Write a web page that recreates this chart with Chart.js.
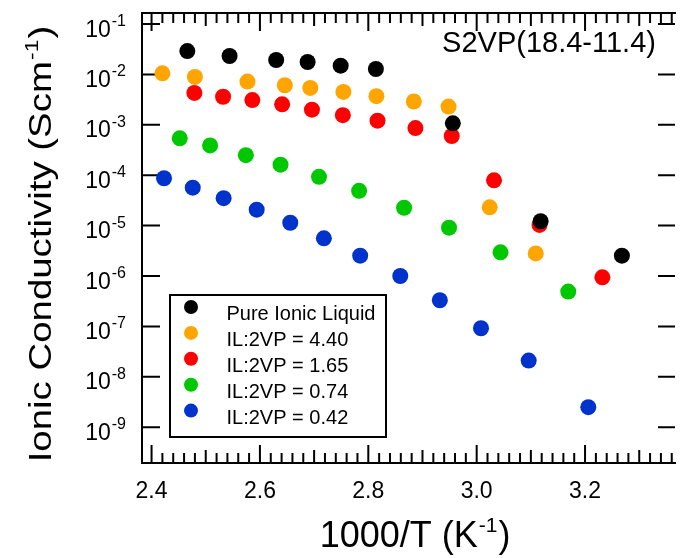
<!DOCTYPE html>
<html>
<head>
<meta charset="utf-8">
<script src="https://cdn.jsdelivr.net/npm/chart.js@4"></script>
<style>
  html, body { margin: 0; padding: 0; background: #fff; overflow: hidden; }
  canvas { display: block; }
</style>
</head>
<body>
<canvas id="c" width="683" height="558"></canvas>
<script>
// Ionic conductivity vs. inverse temperature for S2VP(18.4-11.4) with varying IL:2VP ratio

const seriesNames = ['Pure Ionic Liquid', 'IL:2VP = 4.40', 'IL:2VP = 1.65', 'IL:2VP = 0.74', 'IL:2VP = 0.42'];
const seriesColors = ['#000000', '#FFA500', '#FF0000', '#00C800', '#0033CC'];

// 1000/T (K^-1) and conductivity (S/cm) per series
const pureX  = [2.466, 2.544, 2.630, 2.688, 2.749, 2.814, 2.956, 3.118, 3.268];
const pureY  = [2.9e-2, 2.32e-2, 1.93e-2, 1.76e-2, 1.49e-2, 1.28e-2, 1.07e-3, 1.22e-5, 2.53e-6];

const il440X = [2.420, 2.480, 2.577, 2.646, 2.693, 2.754, 2.815, 2.884, 2.948, 3.024, 3.109];
const il440Y = [1.05e-2, 8.9e-3, 7.2e-3, 6.1e-3, 5.4e-3, 4.5e-3, 3.7e-3, 2.9e-3, 2.3e-3, 2.3e-5, 2.8e-6];

const il165X = [2.479, 2.532, 2.586, 2.641, 2.696, 2.753, 2.817, 2.887, 2.954, 3.032, 3.116, 3.232];
const il165Y = [4.3e-3, 3.6e-3, 3.1e-3, 2.55e-3, 2.0e-3, 1.55e-3, 1.21e-3, 8.6e-4, 6.0e-4, 7.9e-5, 1.03e-5, 9.4e-7];

const il074X = [2.452, 2.508, 2.574, 2.638, 2.709, 2.783, 2.866, 2.949, 3.044, 3.169];
const il074Y = [5.4e-4, 3.9e-4, 2.5e-4, 1.62e-4, 9.3e-5, 4.9e-5, 2.26e-5, 9.1e-6, 2.95e-6, 4.9e-7];

const il042X = [2.423, 2.476, 2.533, 2.594, 2.656, 2.718, 2.785, 2.859, 2.932, 3.008, 3.096, 3.206];
const il042Y = [8.7e-5, 5.65e-5, 3.5e-5, 2.07e-5, 1.14e-5, 5.6e-6, 2.53e-6, 1.0e-6, 3.3e-7, 9.2e-8, 2.1e-8, 2.5e-9];

// axis ticks
const xTickValues = [2.4, 2.6, 2.8, 3.0, 3.2];
const xTickLabels = ['2.4', '2.6', '2.8', '3.0', '3.2'];
const xMidTicks   = [2.5, 2.7, 2.9, 3.1, 3.3];
const yExponents  = [-1, -2, -3, -4, -5, -6, -7, -8, -9];

const plotTitle = 'S2VP(18.4-11.4)';
const FONT = '"Liberation Sans", Arial, Helvetica, sans-serif';

const xs = [pureX, il440X, il165X, il074X, il042X];
const ys = [pureY, il440Y, il165Y, il074Y, il042Y];

const datasets = seriesNames.map((name, i) => ({
  label: name,
  data: xs[i].map((x, j) => ({ x: x, y: ys[i][j] })),
  backgroundColor: seriesColors[i],
  borderWidth: 0,
  pointRadius: 8,
  pointHoverRadius: 8
}));

// text with a superscript part: [base, sup, tail]
function powWidth(ctx, parts, size, supSize) {
  ctx.font = size + 'px ' + FONT;
  let w = ctx.measureText(parts[0]).width + ctx.measureText(parts[2] || '').width;
  ctx.font = supSize + 'px ' + FONT;
  w += ctx.measureText(parts[1]).width;
  return w + (parts[2] ? 2 : 1);
}
function drawPow(ctx, x, y, parts, size, supSize, rise) {
  ctx.textAlign = 'left';
  ctx.textBaseline = 'alphabetic';
  ctx.font = size + 'px ' + FONT;
  ctx.fillText(parts[0], x, y);
  x += ctx.measureText(parts[0]).width + 1;
  ctx.font = supSize + 'px ' + FONT;
  ctx.fillText(parts[1], x, y - rise);
  x += ctx.measureText(parts[1]).width + 1;
  if (parts[2]) {
    ctx.font = size + 'px ' + FONT;
    ctx.fillText(parts[2], x, y);
  }
}

const framePlugin = {
  id: 'frame',
  beforeDraw(chart) {
    const ctx = chart.ctx;
    ctx.save();
    ctx.fillStyle = '#fff';
    ctx.fillRect(0, 0, chart.width, chart.height);
    ctx.restore();
  },
  beforeDatasetsDraw(chart) {
    const ctx = chart.ctx;
    const a = chart.chartArea;
    const sx = chart.scales.x, sy = chart.scales.y;
    ctx.save();
    ctx.strokeStyle = '#000';
    ctx.lineWidth = 2;
    ctx.lineCap = 'butt';
    ctx.beginPath();
    // left, top, bottom frame lines
    ctx.moveTo(a.left, a.top - 1); ctx.lineTo(a.left, a.bottom + 1);
    ctx.moveTo(a.left - 1, a.top); ctx.lineTo(a.right + 1, a.top);
    ctx.moveTo(a.left - 1, a.bottom); ctx.lineTo(a.right + 1, a.bottom);
    ctx.stroke();

    const vTick = (v, len) => {
      const px = sx.getPixelForValue(v);
      if (px < a.left + 1 || px > a.right) return;
      ctx.moveTo(px, a.bottom); ctx.lineTo(px, a.bottom - len);
      ctx.moveTo(px, a.top); ctx.lineTo(px, a.top + len);
    };
    ctx.beginPath();
    for (let k = 0; k * 0.02 + 2.4 <= sx.max + 1e-9; k++) {
      const v = +(2.4 + k * 0.02).toFixed(2);
      vTick(v, 10);
    }
    xMidTicks.forEach(v => vTick(v, 13));
    xTickValues.forEach(v => vTick(v, 18));
    yExponents.forEach(e => {
      const py = sy.getPixelForValue(Math.pow(10, e));
      ctx.moveTo(a.left, py); ctx.lineTo(a.left + 18, py);
      ctx.moveTo(a.right, py); ctx.lineTo(a.right - 17, py);
    });
    ctx.stroke();
    ctx.restore();
  },
  afterDraw(chart) {
    const ctx = chart.ctx;
    const sx = chart.scales.x, sy = chart.scales.y;
    ctx.save();
    ctx.fillStyle = '#000';

    // x tick labels
    ctx.font = '23px ' + FONT;
    ctx.textAlign = 'center';
    ctx.textBaseline = 'alphabetic';
    xTickValues.forEach((v, i) => {
      ctx.fillText(xTickLabels[i], sx.getPixelForValue(v), 498);
    });

    // y tick labels 10^n
    yExponents.forEach(e => {
      const py = sy.getPixelForValue(Math.pow(10, e));
      const parts = ['10', '-' + Math.abs(e), ''];
      const w = powWidth(ctx, parts, 23, 16);
      drawPow(ctx, 126 - w, py + 12.5, parts, 23, 16, 10.5);
    });

    // x axis title
    const xt = ['1000/T (K', '-1', ')'];
    const xw = powWidth(ctx, xt, 36, 21);
    drawPow(ctx, 415 - xw / 2, 547, xt, 36, 21, 15);

    // y axis title (slightly stretched along the text direction)
    ctx.save();
    ctx.translate(51, 244);
    ctx.rotate(-Math.PI / 2);
    ctx.scale(1.2, 1);
    const yt = ['Ionic Conductivity (Scm', '-1', ')'];
    const yw = powWidth(ctx, yt, 32, 19);
    drawPow(ctx, -yw / 2, 0, yt, 32, 19, 13);
    ctx.restore();

    // sample title
    ctx.font = '29px ' + FONT;
    ctx.textAlign = 'center';
    ctx.textBaseline = 'alphabetic';
    ctx.fillText(plotTitle, 549, 51.5);

    // legend
    const lx = 170, ly = 295, lw = 216, lh = 142;
    ctx.fillStyle = '#fff';
    ctx.fillRect(lx, ly, lw, lh);
    ctx.strokeStyle = '#000';
    ctx.lineWidth = 2;
    ctx.strokeRect(lx, ly, lw, lh);
    chart.data.datasets.forEach((ds, i) => {
      const my = 307 + i * 25.9;
      ctx.beginPath();
      ctx.arc(191, my, 7, 0, Math.PI * 2);
      ctx.fillStyle = ds.backgroundColor;
      ctx.fill();
      ctx.fillStyle = '#000';
      ctx.font = '20px ' + FONT;
      ctx.textAlign = 'left';
      ctx.fillText(ds.label, 226.5, my + 13);
    });
    ctx.restore();
  }
};

new Chart(document.getElementById('c'), {
  type: 'scatter',
  data: { datasets: datasets },
  options: {
    responsive: false,
    animation: false,
    devicePixelRatio: 1,
    events: [],
    layout: { padding: { left: 142, top: 13, right: 0, bottom: 95 } },
    plugins: { legend: { display: false }, tooltip: { enabled: false }, title: { display: false } },
    scales: {
      x: { type: 'linear', display: false, min: 2.38236, max: 3.366 },
      y: { type: 'logarithmic', display: false, min: Math.pow(10, -9.7103), max: Math.pow(10, -0.7817) }
    }
  },
  plugins: [framePlugin]
});
</script>
</body>
</html>
